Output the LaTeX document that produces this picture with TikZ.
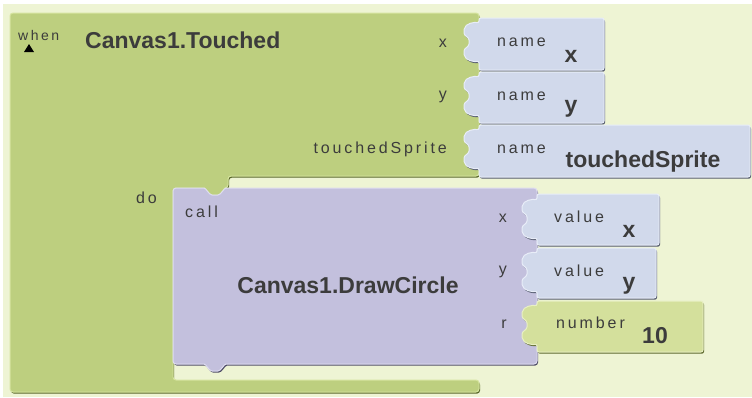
\documentclass[tikz,border=0pt]{standalone}
\usepackage{fontspec}
\setmainfont{Liberation Sans}
\newfontfamily\lblfont[LetterSpace=18]{Liberation Sans}

\definecolor{bgc}{RGB}{238,244,212}
\definecolor{evgreen}{RGB}{189,207,127}
\definecolor{evdark}{RGB}{88,104,40}
\definecolor{evlight}{RGB}{214,228,160}
\definecolor{callpur}{RGB}{195,192,221}
\definecolor{calldark}{RGB}{80,78,104}
\definecolor{calllight}{RGB}{222,220,240}
\definecolor{nameblue}{RGB}{209,217,235}
\definecolor{namedark}{RGB}{84,90,110}
\definecolor{namelight}{RGB}{232,237,248}
\definecolor{numgreen}{RGB}{212,224,156}
\definecolor{numdark}{RGB}{92,104,44}
\definecolor{numlight}{RGB}{232,240,196}
\definecolor{txt}{RGB}{60,60,60}

% socket plug on the left edge of an argument block, drawn upwards
% #1 = left edge x, #2 = centre y of the socket
\newcommand{\plug}[2]{-- (#1,#2+19)
  .. controls (#1-4,#2+20) and (#1-14,#2+19) .. (#1-15,#2+11)
  .. controls (#1-15,#2+6) and (#1-10,#2+5) .. (#1-10,#2)
  .. controls (#1-10,#2-5) and (#1-15,#2-6) .. (#1-15,#2-11)
  .. controls (#1-14,#2-19) and (#1-4,#2-20) .. (#1,#2-19)}

\tikzset{
  bevel/.style={preaction={fill=#1,transform canvas={xshift=1pt,yshift=-1.6pt}}},
  evblk/.style={bevel=evdark,fill=evgreen,draw=evlight,line width=1pt,rounded corners=3pt},
  callblk/.style={bevel=calldark,fill=callpur,draw=calllight,line width=1pt,rounded corners=3pt},
  nameblk/.style={bevel=namedark,fill=nameblue,draw=namelight,line width=1pt,rounded corners=2pt},
  numblk/.style={bevel=numdark,fill=numgreen,draw=numlight,line width=1pt,rounded corners=2pt},
  lbl/.style={inner sep=0pt,text=txt,font=\lblfont\fontsize{16}{16}\selectfont},
  big/.style={inner sep=0pt,text=txt,font=\bfseries\fontsize{23}{23}\selectfont},
}

\begin{document}
\begin{tikzpicture}[x=1pt,y=-1pt]
    \useasboundingbox (0,0) rectangle (752,397);
    \fill[white] (0,0) rectangle (752,397);
    \fill[bgc] (3,4) rectangle (752,397);

    % event block (C shape)
    \draw[evblk] (10,13) -- (479,13) -- (479,176) -- (228,176) -- (228,188)
        .. controls (224,188) and (221,195) .. (215,195)
        .. controls (209,195) and (206,188) .. (201,188)
        -- (173,188) -- (173,380) -- (479,380) -- (479,392) -- (10,392) -- cycle;
    \fill (24,52) -- (34,52) -- (29,44) -- cycle;
    \node[lbl,anchor=base west,font=\lblfont\fontsize{14}{14}\selectfont] (when) at (18,40) {when};
    \node[big,anchor=base west] (evname) at (85,48) {Canvas1.Touched};
    \node[lbl,anchor=base east] (px) at (447,47) {x};
    \node[lbl,anchor=base east] (py) at (447,99) {y};
    \node[lbl,anchor=base east] (psprite) at (447,153) {touchedSprite};
    \node[lbl,anchor=base east] (do) at (157,203) {do};

    % event parameters
    \draw[nameblk] (479,18) -- (604,18) -- (604,70) -- (479,70) \plug{479}{42} -- cycle;
    \draw[nameblk] (479,72) -- (604,72) -- (604,123) -- (479,123) \plug{479}{96} -- cycle;
    \draw[nameblk] (479,125) -- (750,125) -- (750,177) -- (479,177) \plug{479}{149} -- cycle;
    \node[lbl,anchor=base west] (namex) at (497,46) {name};
    \node[big,anchor=base] (valnx) at (571,62) {x};
    \node[lbl,anchor=base west] (namey) at (497,100) {name};
    \node[big,anchor=base] (valny) at (571,112) {y};
    \node[lbl,anchor=base west] (namesp) at (497,153) {name};
    \node[big,anchor=base] (valnsp) at (643,167) {touchedSprite};

    % call block
    \draw[callblk] (173,188) -- (201,188)
        .. controls (206,188) and (209,195) .. (215,195)
        .. controls (221,195) and (224,188) .. (229,188)
        -- (537,188) -- (537,364) -- (229,364)
        .. controls (224,364) and (221,371) .. (215,371)
        .. controls (209,371) and (206,364) .. (201,364)
        -- (173,364) -- cycle;
    \node[lbl,anchor=base west] (call) at (185,217) {call};
    \node[big,anchor=base] (callname) at (348,293) {Canvas1.DrawCircle};
    \node[lbl,anchor=base east] (ax) at (507,222) {x};
    \node[lbl,anchor=base east] (ay) at (507,274) {y};
    \node[lbl,anchor=base east] (ar) at (507,328) {r};

    % call arguments
    \draw[nameblk] (537,194) -- (659,194) -- (659,245) -- (537,245) \plug{537}{219} -- cycle;
    \draw[nameblk] (537,248) -- (656,248) -- (656,298) -- (537,298) \plug{537}{272} -- cycle;
    \draw[numblk] (537,301) -- (703,301) -- (703,352) -- (537,352) \plug{537}{325} -- cycle;
    \node[lbl,anchor=base west] (valuex) at (554,222) {value};
    \node[big,anchor=base] (vx) at (629,237) {x};
    \node[lbl,anchor=base west] (valuey) at (554,276) {value};
    \node[big,anchor=base] (vy) at (629,289) {y};
    \node[lbl,anchor=base west] (number) at (556,328) {number};
    \node[big,anchor=base] (vr) at (655,343) {10};
\end{tikzpicture}
\end{document}
